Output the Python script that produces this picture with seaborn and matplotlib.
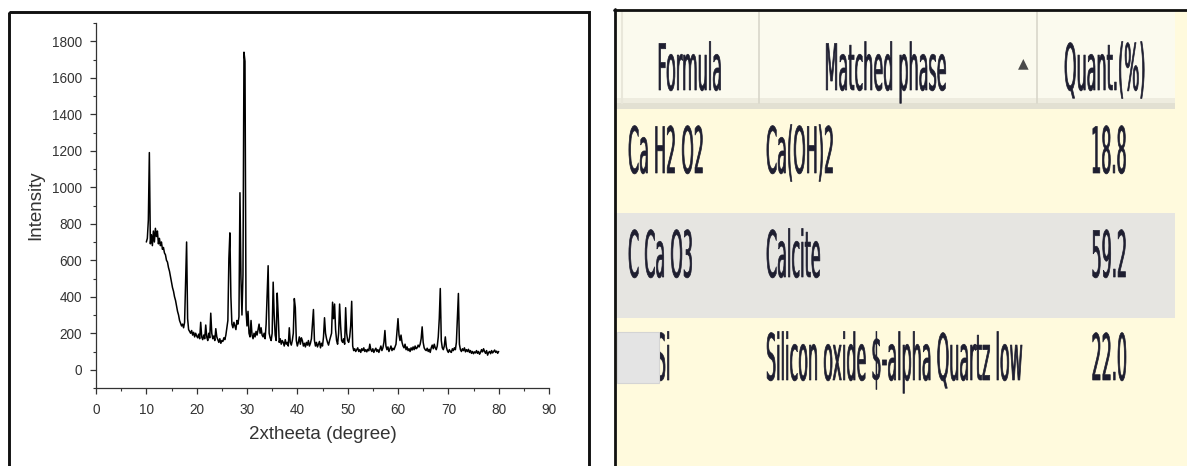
import numpy as np
import matplotlib
matplotlib.use("Agg")
import matplotlib.pyplot as plt
import seaborn as sns
from matplotlib.patches import Rectangle
from matplotlib.lines import Line2D
from matplotlib.patheffects import AbstractPathEffect
from matplotlib.transforms import Affine2D
from matplotlib.ticker import MultipleLocator

# ---------------- data: XRD pattern (2theta from 10 to 80, step 0.2) ----------------
theta_start = 10.0
theta_step = 0.2
intensity_10_20 = [700, 720, 820, 1190, 690, 740, 680, 760, 700, 775,
                   730, 760, 690, 720, 680, 700, 660, 670, 640, 630,
                   600, 590, 560, 540, 510, 480, 450, 430, 400, 380,
                   350, 320, 300, 270, 255, 240, 250, 230, 260, 470,
                   700, 280, 220, 210, 200, 215, 190, 205, 180, 200,
                   185]
intensity_20_30 = [175, 195, 170, 260, 180, 165, 190, 170, 245, 180,
                   160, 200, 175, 310, 200, 170, 185, 160, 225, 180,
                   165, 150, 170, 145, 160, 155, 175, 165, 190, 230,
                   270, 610, 750, 400, 250, 230, 260, 240, 220, 270,
                   250, 290, 970, 500, 300, 520, 1740, 1690, 330, 240]
intensity_30_40 = [320, 200, 180, 270, 190, 170, 200, 180, 210, 190,
                   220, 250, 200, 230, 190, 180, 200, 170, 250, 410,
                   570, 200, 175, 160, 200, 480, 300, 190, 160, 420,
                   300, 150, 170, 140, 160, 150, 130, 165, 140, 150,
                   130, 230, 150, 135, 160, 200, 390, 340, 160, 130]
intensity_40_50 = [150, 180, 140, 175, 160, 130, 145, 125, 150, 135,
                   160, 130, 145, 170, 250, 330, 160, 130, 150, 125,
                   140, 155, 120, 145, 130, 180, 285, 200, 170, 150,
                   135, 160, 180, 200, 370, 280, 360, 220, 160, 140,
                   200, 360, 240, 160, 150, 170, 140, 340, 200, 160]
intensity_50_60 = [150, 180, 240, 375, 130, 105, 115, 100, 110, 120,
                   100, 110, 95, 115, 105, 120, 100, 110, 98, 112,
                   104, 140, 110, 100, 115, 95, 108, 118, 100, 110,
                   95, 112, 130, 105, 120, 150, 215, 130, 110, 125,
                   100, 115, 130, 105, 118, 110, 125, 140, 210, 280]
intensity_60_70 = [190, 160, 190, 150, 130, 120, 140, 110, 125, 105,
                   115, 100, 120, 108, 125, 110, 130, 115, 120, 135,
                   125, 140, 170, 235, 150, 120, 110, 105, 118, 100,
                   112, 95, 120, 135, 115, 140, 120, 110, 130, 180,
                   280, 445, 160, 120, 110, 130, 180, 125, 105, 95]
intensity_70_80 = [110, 100, 95, 115, 105, 120, 110, 150, 290, 418,
                   140, 110, 100, 115, 105, 120, 98, 110, 100, 112,
                   95, 105, 90, 100, 88, 98, 92, 105, 90, 100,
                   85, 95, 110, 98, 115, 100, 90, 105, 80, 95,
                   100, 88, 105, 92, 100, 108, 95, 102, 90, 100]

intensity = np.array(intensity_10_20 + intensity_20_30 + intensity_30_40 +
                     intensity_40_50 + intensity_50_60 + intensity_60_70 +
                     intensity_70_80, dtype=float)
two_theta = np.round(theta_start + theta_step * np.arange(len(intensity)), 1)

x_ticks = [0, 10, 20, 30, 40, 50, 60, 70, 80, 90]
y_ticks = [0, 200, 400, 600, 800, 1000, 1200, 1400, 1600, 1800]

# ---------------- data: phase table ----------------
table_headers = ["Formula", "Matched phase", "Quant.(%)"]
formulas = ["Ca H2 O2", "C Ca O3", "O2 Si"]
phases = ["Ca(OH)2", "Calcite", "Silicon oxide $-alpha Quartz low"]
quant = ["18.8", "59.2", "22.0"]

# ---------------- style ----------------
sns.set_style("ticks")
plt.rcParams["font.family"] = ["Liberation Sans", "DejaVu Sans"]

W, H = 1187, 466
fig = plt.figure(figsize=(W / 100, H / 100), dpi=100)
fig.patch.set_facecolor("white")


class VStretch(AbstractPathEffect):
    """Stretch glyph outlines vertically around the text baseline (slightly emboldened)."""
    def __init__(self, sy=1.0, lw=0.0):
        super().__init__()
        self.sy = sy
        self.lw = lw

    def draw_path(self, renderer, gc, tpath, affine, rgbFace=None):
        gc0 = renderer.new_gc()
        gc0.copy_properties(gc)
        gc0.set_linewidth(self.lw)
        gc0.set_joinstyle("round")
        renderer.draw_path(gc0, tpath, Affine2D().scale(1.0, self.sy) + affine, rgbFace)
        gc0.restore()


# overlay axes in pixel coordinates (y downward)
ov = fig.add_axes([0, 0, 1, 1], zorder=0)
ov.set_xlim(0, W)
ov.set_ylim(H, 0)
ov.axis("off")

# ---- right panel (table screenshot) ----
yellow = "#FFFADD"
ov.add_patch(Rectangle((614, 9), 600, 470, fc=yellow, ec="none", zorder=1))
ov.add_patch(Rectangle((614, 10), 561, 98, fc="#FBFAEE", ec="none", zorder=2))
ov.add_patch(Rectangle((614, 98), 561, 5, fc="#EEECDF", ec="none", zorder=2))
ov.add_patch(Rectangle((614, 103), 561, 6, fc="#E2E0D2", ec="none", zorder=2))
for xs in (759, 1037):
    ov.add_line(Line2D([xs, xs], [12, 103], color="#D9D7CA", lw=1.2, zorder=3))
ov.add_line(Line2D([622, 622], [12, 103], color="#E9E7DA", lw=1.5, zorder=3))
ov.add_patch(Rectangle((614, 213), 561, 105, fc="#E6E5E1", ec="none", zorder=2))

txt_col = "#1E1E30"
fs = 11.5
stretch = [VStretch(4.0, lw=0.5)]
head_x = [690, 886, 1105]
for s, xh in zip(table_headers, head_x):
    ov.text(xh, 90, s, ha="center", va="baseline", fontsize=fs, color=txt_col,
            family="DejaVu Sans", path_effects=stretch, zorder=5, parse_math=False)
ov.text(1023, 63, "\u25B2", ha="center", va="center", fontsize=10,
        color="#4A4A4A", family="DejaVu Sans", zorder=5)

row_base = [173, 277, 380]
for f, p, q, yb in zip(formulas, phases, quant, row_base):
    ov.text(628, yb, f, ha="left", va="baseline", fontsize=fs, color=txt_col,
            family="DejaVu Sans", path_effects=stretch, zorder=5, parse_math=False)
    ov.text(766, yb, p, ha="left", va="baseline", fontsize=fs, color=txt_col,
            family="DejaVu Sans", path_effects=stretch, zorder=5, parse_math=False)
    ov.text(1127, yb, q, ha="right", va="baseline", fontsize=fs, color=txt_col,
            family="DejaVu Sans", path_effects=stretch, zorder=5, parse_math=False)

# grey selection box over the start of the last formula
ov.add_patch(Rectangle((617, 332), 42, 51, fc="#E4E4E4", ec="#D4D4D4", lw=0.8, zorder=6))

# ---- borders ----
ov.add_patch(Rectangle((8.5, 12), 580.5, 470, fill=False, ec="#111111", lw=2.1, zorder=8))
ov.add_line(Line2D([615, 615], [9, 470], color="#111111", lw=2.0, zorder=8))
ov.add_line(Line2D([614, 1190], [9.5, 9.5], color="#111111", lw=2.0, zorder=8))

# ---------------- left panel: XRD plot ----------------
ax = fig.add_axes([96 / W, 1 - 388 / H, 453 / W, 365 / H], zorder=2)
ax.patch.set_alpha(0)
sns.lineplot(x=two_theta, y=intensity, ax=ax, color="black", linewidth=1.1)
ax.set_xlim(0, 90)
ax.set_ylim(-100, 1900)
ax.set_xticks(x_ticks)
ax.set_yticks(y_ticks)
ax.xaxis.set_minor_locator(MultipleLocator(5))
ax.yaxis.set_minor_locator(MultipleLocator(100))
for side in ("top", "right"):
    ax.spines[side].set_visible(False)
for side in ("left", "bottom"):
    ax.spines[side].set_color("#333333")
    ax.spines[side].set_linewidth(0.9)
ax.tick_params(which="major", direction="out", length=4.3, width=0.9,
               color="#333333", labelsize=9.8, labelcolor="#333333")
ax.tick_params(which="minor", direction="out", length=2.3, width=0.8, color="#333333")
ax.tick_params(axis="y", which="major", pad=5.8)
ax.tick_params(axis="x", which="major", pad=6.3)
ax.set_xlabel("2xtheeta (degree)", fontsize=13.5, color="#333333")
ax.set_ylabel("Intensity", fontsize=13.5, color="#333333")
ax.xaxis.set_label_coords(0.5, -0.105)
ax.yaxis.set_label_coords(-0.115, 0.5)
ax.grid(False)

fig.savefig("out.png", dpi=100)
